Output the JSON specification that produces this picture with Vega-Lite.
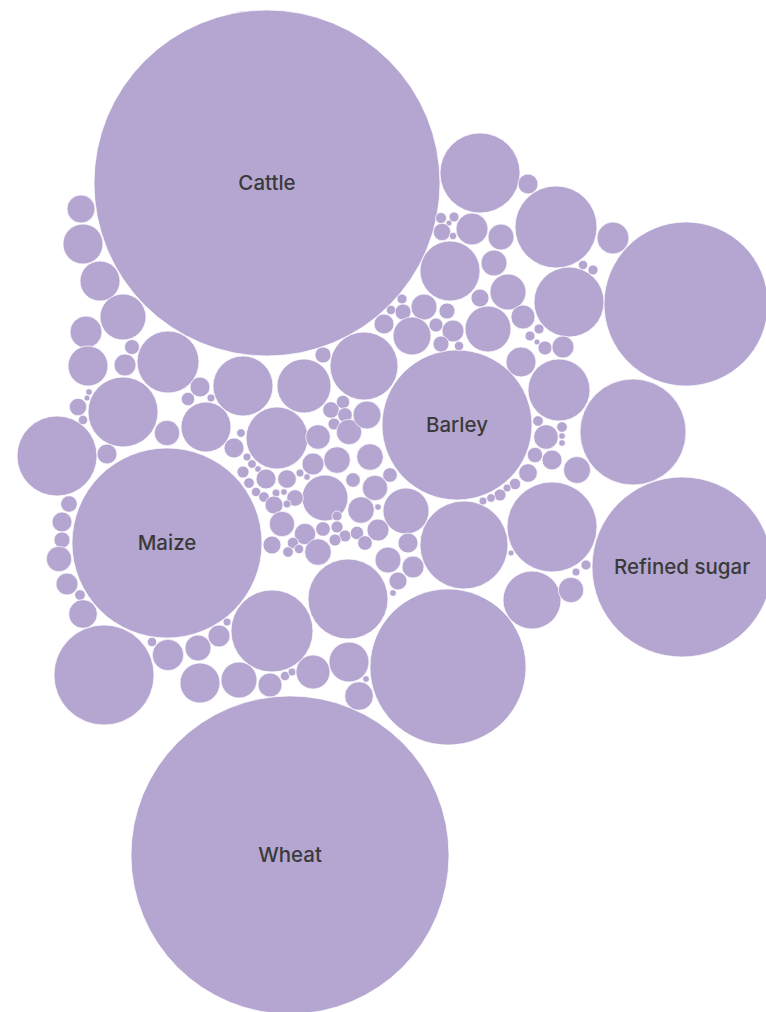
{
  "$schema": "https://vega.github.io/schema/vega-lite/v6.json",
  "width": 766,
  "height": 1012,
  "autosize": {"type": "none"},
  "padding": 0,
  "background": "white",
  "config": {"view": {"stroke": null}},
  "data": {"values": [
    {"x": 267, "y": 183, "r": 173, "label": "Cattle"},
    {"x": 290, "y": 855, "r": 159, "label": "Wheat"},
    {"x": 167, "y": 543, "r": 95, "label": "Maize"},
    {"x": 457, "y": 425, "r": 75, "label": "Barley"},
    {"x": 682, "y": 567, "r": 90, "label": "Refined sugar"},
    {"x": 686, "y": 304, "r": 82, "label": ""},
    {"x": 448, "y": 667, "r": 78, "label": ""},
    {"x": 633, "y": 432, "r": 53, "label": ""},
    {"x": 104, "y": 675, "r": 50, "label": ""},
    {"x": 480, "y": 173, "r": 40, "label": ""},
    {"x": 556, "y": 227, "r": 41, "label": ""},
    {"x": 552, "y": 527, "r": 45, "label": ""},
    {"x": 464, "y": 545, "r": 44, "label": ""},
    {"x": 348, "y": 599, "r": 40, "label": ""},
    {"x": 272, "y": 631, "r": 41, "label": ""},
    {"x": 57, "y": 456, "r": 40, "label": ""},
    {"x": 569, "y": 302, "r": 35, "label": ""},
    {"x": 559, "y": 390, "r": 31, "label": ""},
    {"x": 450, "y": 271, "r": 30, "label": ""},
    {"x": 532, "y": 600, "r": 29, "label": ""},
    {"x": 123, "y": 412, "r": 35, "label": ""},
    {"x": 168, "y": 362, "r": 31, "label": ""},
    {"x": 243, "y": 386, "r": 30, "label": ""},
    {"x": 304, "y": 386, "r": 27, "label": ""},
    {"x": 364, "y": 366, "r": 34, "label": ""},
    {"x": 277, "y": 438, "r": 31, "label": ""},
    {"x": 206, "y": 427, "r": 25, "label": ""},
    {"x": 325, "y": 498, "r": 23, "label": ""},
    {"x": 406, "y": 511, "r": 23, "label": ""},
    {"x": 488, "y": 329, "r": 23, "label": ""},
    {"x": 528, "y": 184, "r": 10, "label": ""},
    {"x": 81, "y": 209, "r": 14, "label": ""},
    {"x": 83, "y": 244, "r": 20, "label": ""},
    {"x": 100, "y": 281, "r": 20, "label": ""},
    {"x": 123, "y": 317, "r": 23, "label": ""},
    {"x": 86, "y": 332, "r": 16, "label": ""},
    {"x": 132, "y": 347, "r": 7.5, "label": ""},
    {"x": 125, "y": 365, "r": 11, "label": ""},
    {"x": 88, "y": 366, "r": 20, "label": ""},
    {"x": 323, "y": 355, "r": 8, "label": ""},
    {"x": 384, "y": 324, "r": 10, "label": ""},
    {"x": 441, "y": 218, "r": 5.5, "label": ""},
    {"x": 454, "y": 217, "r": 5, "label": ""},
    {"x": 449, "y": 223, "r": 3, "label": ""},
    {"x": 442, "y": 232, "r": 8.7, "label": ""},
    {"x": 453, "y": 236, "r": 3.7, "label": ""},
    {"x": 472, "y": 229, "r": 16, "label": ""},
    {"x": 501, "y": 237, "r": 13, "label": ""},
    {"x": 494, "y": 263, "r": 13, "label": ""},
    {"x": 508, "y": 292, "r": 18, "label": ""},
    {"x": 480, "y": 298, "r": 9, "label": ""},
    {"x": 402, "y": 299, "r": 5, "label": ""},
    {"x": 391, "y": 310, "r": 4.7, "label": ""},
    {"x": 403, "y": 312, "r": 8, "label": ""},
    {"x": 424, "y": 307, "r": 13, "label": ""},
    {"x": 447, "y": 311, "r": 8, "label": ""},
    {"x": 412, "y": 336, "r": 19, "label": ""},
    {"x": 436, "y": 325, "r": 7, "label": ""},
    {"x": 453, "y": 331, "r": 11, "label": ""},
    {"x": 441, "y": 344, "r": 8, "label": ""},
    {"x": 459, "y": 346, "r": 4.7, "label": ""},
    {"x": 523, "y": 317, "r": 12, "label": ""},
    {"x": 530, "y": 336, "r": 5, "label": ""},
    {"x": 539, "y": 329, "r": 5, "label": ""},
    {"x": 537, "y": 342, "r": 3, "label": ""},
    {"x": 545, "y": 348, "r": 7, "label": ""},
    {"x": 563, "y": 347, "r": 11, "label": ""},
    {"x": 521, "y": 362, "r": 15, "label": ""},
    {"x": 613, "y": 238, "r": 16, "label": ""},
    {"x": 583, "y": 265, "r": 4.7, "label": ""},
    {"x": 593, "y": 270, "r": 5, "label": ""},
    {"x": 89, "y": 392, "r": 3.3, "label": ""},
    {"x": 87, "y": 398, "r": 3, "label": ""},
    {"x": 78, "y": 407, "r": 8.7, "label": ""},
    {"x": 83, "y": 420, "r": 4.7, "label": ""},
    {"x": 200, "y": 387, "r": 10, "label": ""},
    {"x": 211, "y": 398, "r": 4, "label": ""},
    {"x": 188, "y": 399, "r": 6.7, "label": ""},
    {"x": 167, "y": 433, "r": 12.7, "label": ""},
    {"x": 107, "y": 454, "r": 10, "label": ""},
    {"x": 69, "y": 504, "r": 8.3, "label": ""},
    {"x": 62, "y": 522, "r": 10, "label": ""},
    {"x": 62, "y": 540, "r": 8, "label": ""},
    {"x": 59, "y": 559, "r": 12.7, "label": ""},
    {"x": 67, "y": 584, "r": 11, "label": ""},
    {"x": 80, "y": 595, "r": 5.3, "label": ""},
    {"x": 83, "y": 614, "r": 14.3, "label": ""},
    {"x": 152, "y": 642, "r": 4.7, "label": ""},
    {"x": 168, "y": 655, "r": 15.7, "label": ""},
    {"x": 198, "y": 648, "r": 13, "label": ""},
    {"x": 200, "y": 683, "r": 20, "label": ""},
    {"x": 227, "y": 622, "r": 4, "label": ""},
    {"x": 219, "y": 636, "r": 11, "label": ""},
    {"x": 239, "y": 680, "r": 18, "label": ""},
    {"x": 270, "y": 685, "r": 12, "label": ""},
    {"x": 285, "y": 676, "r": 4.7, "label": ""},
    {"x": 292, "y": 672, "r": 4, "label": ""},
    {"x": 313, "y": 672, "r": 17, "label": ""},
    {"x": 349, "y": 662, "r": 20, "label": ""},
    {"x": 366, "y": 679, "r": 3.3, "label": ""},
    {"x": 359, "y": 696, "r": 14.3, "label": ""},
    {"x": 388, "y": 560, "r": 13, "label": ""},
    {"x": 413, "y": 567, "r": 11, "label": ""},
    {"x": 398, "y": 581, "r": 9, "label": ""},
    {"x": 393, "y": 593, "r": 3.3, "label": ""},
    {"x": 571, "y": 590, "r": 12.7, "label": ""},
    {"x": 576, "y": 572, "r": 4, "label": ""},
    {"x": 586, "y": 565, "r": 5, "label": ""},
    {"x": 511, "y": 553, "r": 3, "label": ""},
    {"x": 538, "y": 421, "r": 5.3, "label": ""},
    {"x": 562, "y": 427, "r": 5.3, "label": ""},
    {"x": 562, "y": 436, "r": 3.3, "label": ""},
    {"x": 562, "y": 443, "r": 3.3, "label": ""},
    {"x": 546, "y": 437, "r": 12.3, "label": ""},
    {"x": 535, "y": 455, "r": 7.7, "label": ""},
    {"x": 552, "y": 460, "r": 10, "label": ""},
    {"x": 577, "y": 470, "r": 13.5, "label": ""},
    {"x": 528, "y": 473, "r": 9.3, "label": ""},
    {"x": 515, "y": 484, "r": 5.7, "label": ""},
    {"x": 507, "y": 488, "r": 4, "label": ""},
    {"x": 500, "y": 495, "r": 6, "label": ""},
    {"x": 491, "y": 498, "r": 4.3, "label": ""},
    {"x": 483, "y": 501, "r": 4, "label": ""},
    {"x": 390, "y": 475, "r": 7.3, "label": ""},
    {"x": 408, "y": 543, "r": 10, "label": ""},
    {"x": 241, "y": 433, "r": 4.3, "label": ""},
    {"x": 234, "y": 448, "r": 10, "label": ""},
    {"x": 247, "y": 457, "r": 4, "label": ""},
    {"x": 252, "y": 464, "r": 4.3, "label": ""},
    {"x": 243, "y": 472, "r": 6, "label": ""},
    {"x": 258, "y": 469, "r": 3.3, "label": ""},
    {"x": 266, "y": 479, "r": 10, "label": ""},
    {"x": 249, "y": 483, "r": 5.3, "label": ""},
    {"x": 256, "y": 492, "r": 4.7, "label": ""},
    {"x": 264, "y": 497, "r": 5.3, "label": ""},
    {"x": 276, "y": 493, "r": 4, "label": ""},
    {"x": 284, "y": 492, "r": 3.3, "label": ""},
    {"x": 287, "y": 479, "r": 9.3, "label": ""},
    {"x": 300, "y": 473, "r": 4, "label": ""},
    {"x": 307, "y": 477, "r": 3.3, "label": ""},
    {"x": 313, "y": 464, "r": 11, "label": ""},
    {"x": 295, "y": 498, "r": 8.3, "label": ""},
    {"x": 287, "y": 504, "r": 4, "label": ""},
    {"x": 274, "y": 505, "r": 9, "label": ""},
    {"x": 318, "y": 437, "r": 12.3, "label": ""},
    {"x": 331, "y": 410, "r": 8.3, "label": ""},
    {"x": 343, "y": 402, "r": 6.7, "label": ""},
    {"x": 345, "y": 415, "r": 7.3, "label": ""},
    {"x": 334, "y": 424, "r": 6, "label": ""},
    {"x": 349, "y": 432, "r": 12.7, "label": ""},
    {"x": 367, "y": 415, "r": 14, "label": ""},
    {"x": 337, "y": 460, "r": 13.3, "label": ""},
    {"x": 370, "y": 457, "r": 13.3, "label": ""},
    {"x": 353, "y": 480, "r": 7.3, "label": ""},
    {"x": 375, "y": 488, "r": 12.7, "label": ""},
    {"x": 361, "y": 510, "r": 13.3, "label": ""},
    {"x": 378, "y": 507, "r": 3.3, "label": ""},
    {"x": 337, "y": 516, "r": 5, "label": ""},
    {"x": 323, "y": 529, "r": 7.3, "label": ""},
    {"x": 337, "y": 527, "r": 6, "label": ""},
    {"x": 345, "y": 536, "r": 6, "label": ""},
    {"x": 357, "y": 533, "r": 6.7, "label": ""},
    {"x": 378, "y": 530, "r": 11, "label": ""},
    {"x": 335, "y": 540, "r": 6, "label": ""},
    {"x": 365, "y": 543, "r": 7.3, "label": ""},
    {"x": 305, "y": 534, "r": 10.7, "label": ""},
    {"x": 282, "y": 524, "r": 12.7, "label": ""},
    {"x": 293, "y": 543, "r": 5.7, "label": ""},
    {"x": 299, "y": 549, "r": 4.7, "label": ""},
    {"x": 288, "y": 552, "r": 5.3, "label": ""},
    {"x": 272, "y": 545, "r": 9, "label": ""},
    {"x": 318, "y": 552, "r": 13.3, "label": ""}
  ]},
  "encoding": {
    "x": {"field": "x", "type": "quantitative", "scale": {"domain": [0, 766]}, "axis": null},
    "y": {"field": "y", "type": "quantitative", "scale": {"domain": [0, 1012], "reverse": true}, "axis": null}
  },
  "layer": [
    {
      "mark": {"type": "circle", "color": "#b5a6d1", "opacity": 1, "stroke": "#ffffff", "strokeWidth": 0.7},
      "encoding": {
        "size": {"field": "r", "type": "quantitative", "scale": {"type": "pow", "exponent": 2, "domain": [0, 200], "range": [0, 160000]}, "legend": null}
      }
    },
    {
      "transform": [{"filter": "datum.label != ''"}],
      "mark": {"type": "text", "font": "Inter", "fontSize": 20.5, "fontWeight": 500, "color": "#3a3a3a", "align": "center", "baseline": "middle", "dy": 1},
      "encoding": {"text": {"field": "label", "type": "nominal"}}
    }
  ]
}
